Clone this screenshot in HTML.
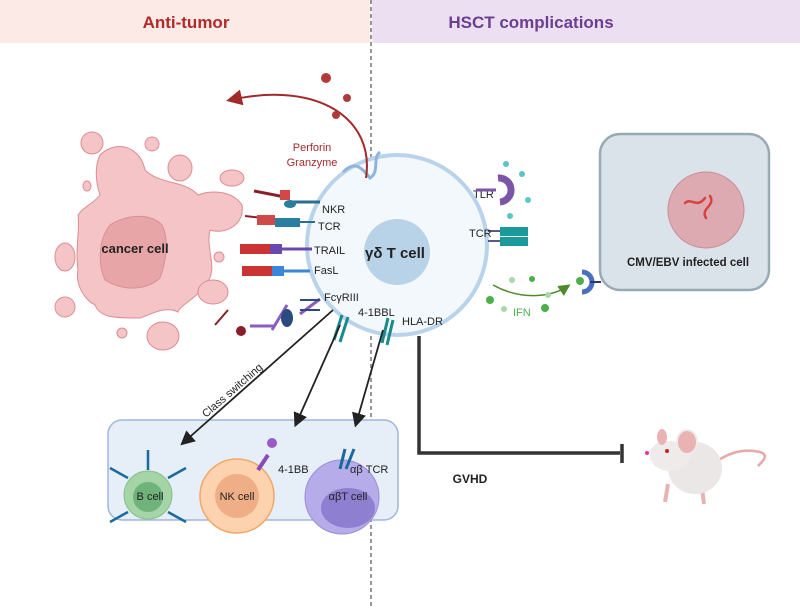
<!DOCTYPE html><html><head><meta charset="utf-8"><style>body{margin:0;background:#fff}svg{display:block}text{font-family:"Liberation Sans",sans-serif}</style></head><body>
<svg width="800" height="608" viewBox="0 0 800 608" xmlns="http://www.w3.org/2000/svg">
<defs>
<marker id="ab" markerWidth="8" markerHeight="8" refX="6" refY="4" orient="auto"><path d="M0,0 L8,4 L0,8 z" fill="#222"/></marker>
<marker id="ar" markerWidth="8" markerHeight="8" refX="6" refY="4" orient="auto"><path d="M0,0 L8,4 L0,8 z" fill="#a32a2a"/></marker>
<marker id="ag" markerWidth="8" markerHeight="8" refX="6" refY="4" orient="auto"><path d="M0,0 L8,4 L0,8 z" fill="#4e8a2a"/></marker>
</defs>
<rect x="0" y="0" width="371" height="43" fill="#fbeae6"/>
<rect x="372" y="0" width="428" height="43" fill="#ecdff2"/>
<text x="186" y="28" font-size="17" font-weight="bold" fill="#b02a2a" text-anchor="middle">Anti-tumor</text>
<text x="531" y="28" font-size="17" font-weight="bold" fill="#6a3f92" text-anchor="middle">HSCT complications</text>
<line x1="371" y1="0" x2="371" y2="608" stroke="#777" stroke-width="1.5" stroke-dasharray="4,3"/>
<!-- cancer cell -->
<g fill="#f4c4c6" stroke="#dc8d93" stroke-width="1">
<path d="M100,155 C115,140 140,145 145,170 C160,185 185,180 198,195 C210,190 232,190 242,205 C245,225 225,235 210,230 C205,250 220,270 205,285 C195,300 180,305 178,312 C165,305 150,315 140,318 C115,318 100,318 95,305 C85,300 75,285 78,270 C75,250 80,230 78,215 C85,205 92,205 100,195 C95,180 95,165 100,155 Z"/>
<ellipse cx="92" cy="143" rx="11" ry="11"/><ellipse cx="152" cy="144" rx="7" ry="7"/><ellipse cx="180" cy="168" rx="12" ry="13"/><ellipse cx="232" cy="178" rx="12" ry="8"/><ellipse cx="87" cy="186" rx="4" ry="5"/><ellipse cx="65" cy="257" rx="10" ry="14"/><ellipse cx="65" cy="307" rx="10" ry="10"/><ellipse cx="163" cy="336" rx="16" ry="14"/><ellipse cx="122" cy="333" rx="5" ry="5"/><ellipse cx="213" cy="292" rx="15" ry="12"/><ellipse cx="219" cy="257" rx="5" ry="5"/>
</g>
<path d="M110,225 C125,215 150,212 162,225 C170,240 165,265 160,278 C145,292 120,290 105,280 C98,265 98,240 110,225 Z" fill="#e7a5a8" stroke="#d89095"/>
<text x="135" y="253" font-size="13" font-weight="bold" fill="#222" text-anchor="middle">cancer cell</text>
<!-- T cell -->
<circle cx="397" cy="245" r="90" fill="#f3f8fc" stroke="#b9d3ea" stroke-width="4"/>
<circle cx="397" cy="252" r="33" fill="#b8d2e8"/>
<text x="395" y="258" font-size="15" font-weight="bold" fill="#222" text-anchor="middle">γδ T cell</text>
<path d="M343,172 C355,160 362,168 370,178 C380,172 372,158 380,152" fill="none" stroke="#8fb4dc" stroke-width="3"/>
<!-- perforin arrow -->
<path d="M366,178 C375,120 320,80 230,100" fill="none" stroke="#a32a2a" stroke-width="2" marker-end="url(#ar)"/>
<circle cx="326" cy="78" r="5" fill="#b03a3a"/><circle cx="347" cy="98" r="4" fill="#b03a3a"/><circle cx="336" cy="115" r="4" fill="#b03a3a"/>
<text x="312" y="151" font-size="11" fill="#a32a2a" text-anchor="middle">Perforin</text>
<text x="312" y="166" font-size="11" fill="#a32a2a" text-anchor="middle">Granzyme</text>
<!-- receptors -->
<g stroke-width="3">
<line x1="254" y1="191" x2="285" y2="197" stroke="#8a1f2a"/><rect x="280" y="190" width="10" height="10" fill="#d04848"/><path d="M290,202 h30" stroke="#2a6f8f"/><ellipse cx="290" cy="204" rx="6" ry="4" fill="#2a7fa0"/>
<line x1="245" y1="216" x2="300" y2="222" stroke="#8a1f2a" stroke-width="2"/><rect x="257" y="215" width="18" height="10" fill="#d04848" stroke="none"/><rect x="275" y="218" width="25" height="9" fill="#2a7fa0" stroke="none"/><line x1="300" y1="222" x2="315" y2="222" stroke="#2a6f8f" stroke-width="2"/>
<rect x="240" y="244" width="30" height="10" fill="#c33" stroke="none"/><rect x="270" y="244" width="12" height="10" fill="#6a48b0" stroke="none"/><line x1="282" y1="249" x2="312" y2="249" stroke="#6a48b0"/>
<rect x="242" y="266" width="30" height="10" fill="#c33" stroke="none"/><rect x="272" y="266" width="12" height="10" fill="#3a86d8" stroke="none"/><line x1="284" y1="271" x2="310" y2="271" stroke="#3a86d8"/>
<line x1="228" y1="310" x2="215" y2="325" stroke="#8a1f2a" stroke-width="2"/><circle cx="241" cy="331" r="5" fill="#8a1f2a" stroke="none"/>
<path d="M250,326 h25 M272,330 l15,-25 M300,314 l20,-15" stroke="#8a5cc0"/><ellipse cx="287" cy="318" rx="6" ry="9" fill="#2a4a80" stroke="none"/><path d="M300,300 h20 M300,310 h20" stroke="#2a4a80" stroke-width="2"/>
<path d="M342,315 l-8,25 M348,317 l-8,25" stroke="#1a8a8a"/><path d="M388,318 l-6,25 M393,320 l-6,25" stroke="#1a8a8a"/>
</g>
<g font-size="11" fill="#222">
<text x="322" y="213">NKR</text><text x="318" y="230">TCR</text><text x="314" y="254">TRAIL</text><text x="314" y="274">FasL</text><text x="324" y="301">FcγRIII</text><text x="358" y="316">4-1BBL</text><text x="402" y="325">HLA-DR</text>
<text x="473" y="198">TLR</text><text x="469" y="237">TCR</text>
</g>
<!-- TLR / TCR right -->
<path d="M476,190 h20" stroke="#7a55a8" stroke-width="3"/><path d="M498,178 a10,10 0 1 1 2,24" fill="none" stroke="#7a55a8" stroke-width="7"/>
<g fill="#5cc4c4"><circle cx="506" cy="164" r="3"/><circle cx="522" cy="174" r="3"/><circle cx="528" cy="200" r="3"/><circle cx="510" cy="216" r="3"/></g>
<rect x="500" y="227" width="28" height="9" fill="#1a9a9a"/><rect x="500" y="237" width="28" height="9" fill="#1a9a9a"/><path d="M488,231 h12 M488,241 h12" stroke="#226" stroke-width="1.5"/>
<!-- IFN -->
<path d="M493,285 C520,300 550,298 568,286" fill="none" stroke="#4e8a2a" stroke-width="1.5" marker-end="url(#ag)"/>
<g fill="#4caf4c"><circle cx="490" cy="300" r="4"/><circle cx="532" cy="279" r="3"/><circle cx="545" cy="308" r="4"/><circle cx="580" cy="281" r="4"/></g>
<g fill="#a8d8a8"><circle cx="512" cy="280" r="3"/><circle cx="504" cy="309" r="3"/><circle cx="548" cy="295" r="3"/></g>
<text x="513" y="316" font-size="11" fill="#4caf4c">IFN</text>
<path d="M582,272 a10,10 0 1 1 0,20" fill="none" stroke="#4a6fc0" stroke-width="5"/><line x1="590" y1="282" x2="601" y2="282" stroke="#2a3a70" stroke-width="2"/>
<!-- infected cell box -->
<rect x="600" y="134" width="169" height="156" rx="20" fill="#dae3ea" stroke="#97aab5" stroke-width="2.5"/>
<circle cx="706" cy="210" r="38" fill="#dcaab0" stroke="#c98a92"/>
<path d="M685,203 c6,-6 12,6 20,-5 M710,196 c6,10 -10,12 -4,22" fill="none" stroke="#d9423f" stroke-width="2.5" stroke-linecap="round"/>
<text x="688" y="266" font-size="11.5" font-weight="bold" fill="#222" text-anchor="middle">CMV/EBV infected cell</text>
<!-- GVHD -->
<path d="M419,336 V453 H620" fill="none" stroke="#333" stroke-width="3.5"/><line x1="622" y1="444" x2="622" y2="463" stroke="#333" stroke-width="3.5"/>
<text x="470" y="483" font-size="12" font-weight="bold" fill="#222" text-anchor="middle">GVHD</text>
<!-- mouse -->
<path d="M716,462 C735,448 752,450 760,452 C770,455 762,462 758,466" fill="none" stroke="#e7a8a8" stroke-width="2.5"/>
<path d="M668,484 l-3,18 M702,488 l2,16" stroke="#e9b3b3" stroke-width="4"/>
<ellipse cx="695" cy="468" rx="27" ry="26" fill="#ebe7e6"/>
<ellipse cx="670" cy="456" rx="20" ry="15" fill="#efebea"/>
<path d="M646,454 L660,440 L674,446 Z" fill="#efebea"/>
<ellipse cx="687" cy="442" rx="10" ry="12" fill="#e9b3b3" stroke="#efebea" stroke-width="2"/>
<ellipse cx="662" cy="437" rx="5" ry="8" fill="#e9b3b3"/>
<circle cx="667" cy="451" r="2" fill="#c22"/><circle cx="647" cy="453" r="2" fill="#e39"/>
<!-- lower box -->
<rect x="108" y="420" width="290" height="100" rx="14" fill="#e6eef8" stroke="#9fb6dc" stroke-width="1.5"/>
<g stroke="#1a6a9a" stroke-width="2.5"><path d="M148,470 v-20 M128,478 l-18,-10 M168,478 l18,-10 M128,512 l-18,10 M168,512 l18,10"/></g>
<circle cx="148" cy="495" r="24" fill="#a5d4a7" stroke="#86c08a"/><circle cx="148" cy="497" r="15" fill="#6fb27a"/>
<text x="150" y="500" font-size="11" fill="#222" text-anchor="middle">B cell</text>
<circle cx="237" cy="496" r="37" fill="#fcd3ae" stroke="#f0a86a" stroke-width="1.5"/><circle cx="237" cy="496" r="22" fill="#f0ae86"/>
<text x="237" y="500" font-size="11" fill="#222" text-anchor="middle">NK cell</text>
<path d="M258,470 l10,-15" stroke="#8a4ab8" stroke-width="4"/><circle cx="272" cy="443" r="5" fill="#9a5ac8"/>
<text x="278" y="473" font-size="11" fill="#222">4-1BB</text>
<circle cx="342" cy="497" r="37" fill="#b7acea" stroke="#9b8dd8"/><ellipse cx="348" cy="508" rx="27" ry="20" fill="#8f7fd0"/>
<text x="348" y="500" font-size="11" fill="#222" text-anchor="middle">αβT cell</text>
<path d="M340,469 l5,-20 M346,469 l8,-20" stroke="#1a6a9a" stroke-width="3"/>
<text x="350" y="473" font-size="11" fill="#222">αβ TCR</text>
<!-- black arrows -->
<line x1="333" y1="310" x2="183" y2="443" stroke="#222" stroke-width="1.8" marker-end="url(#ab)"/>
<line x1="340" y1="325" x2="296" y2="424" stroke="#222" stroke-width="1.8" marker-end="url(#ab)"/>
<line x1="383" y1="330" x2="356" y2="424" stroke="#222" stroke-width="1.8" marker-end="url(#ab)"/>
<text x="0" y="0" font-size="11" fill="#222" transform="translate(206,418) rotate(-41)">Class switching</text>
</svg></body></html>
